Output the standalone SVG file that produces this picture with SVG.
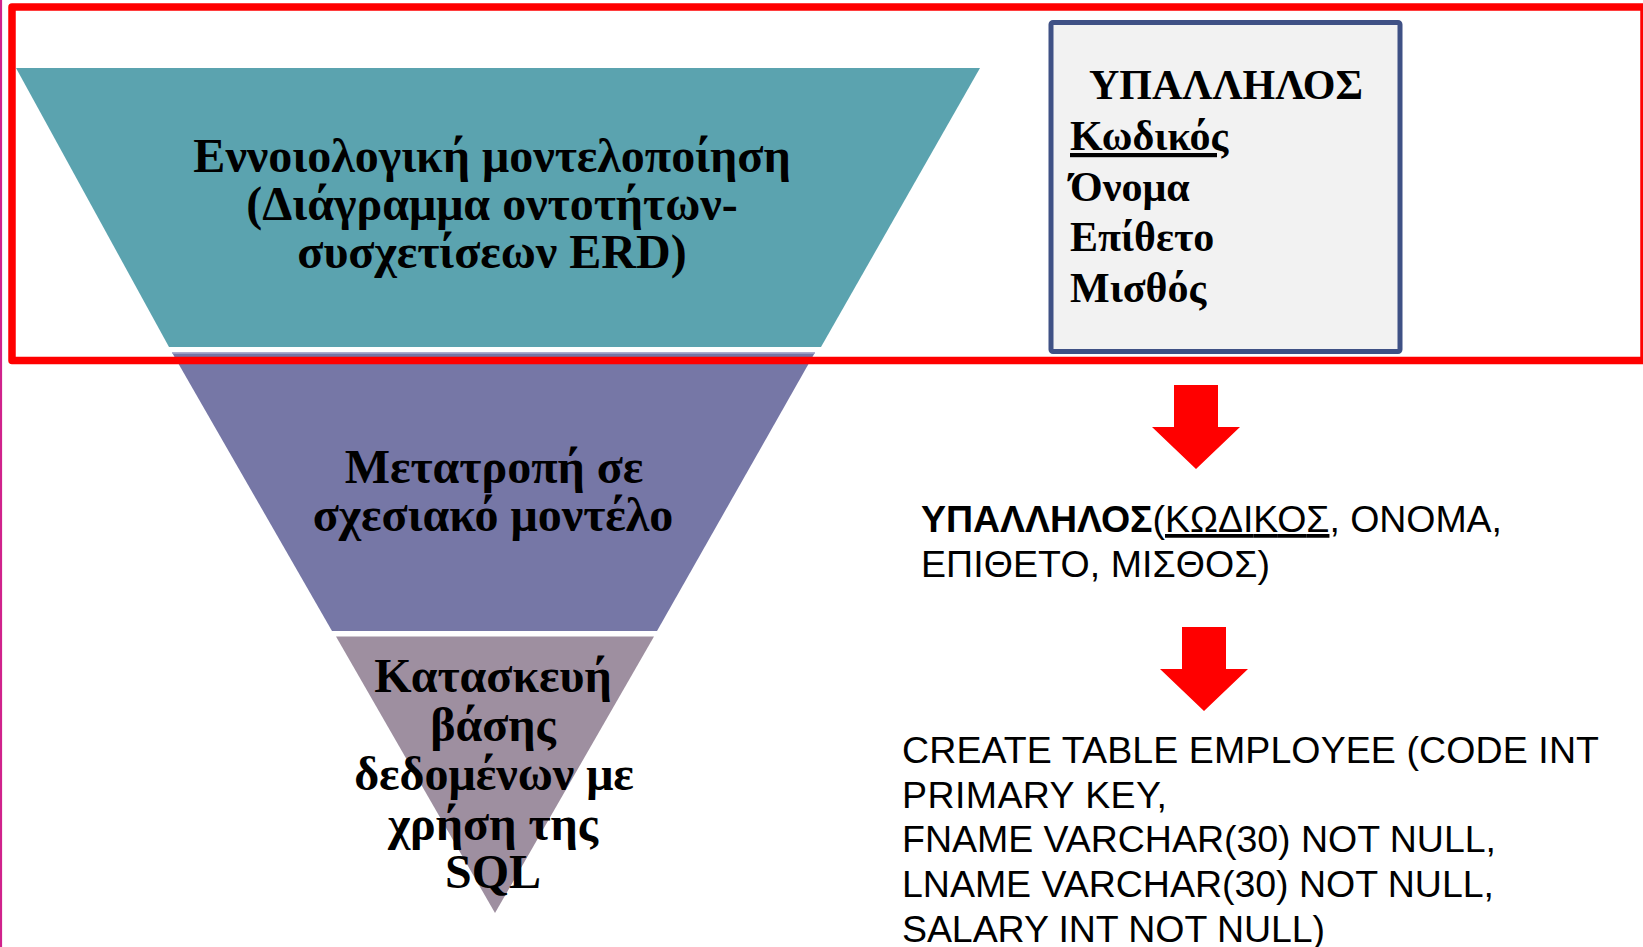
<svg xmlns="http://www.w3.org/2000/svg" width="1643" height="947" viewBox="0 0 1643 947">
  <style>
    .serif { font-family: "Liberation Serif", "Times New Roman", serif; font-weight: bold; fill: #000; }
    .funnel { font-size: 48px; text-anchor: middle; }
    .er { font-size: 42px; }
    .sans { font-family: "Liberation Sans", Arial, sans-serif; font-size: 37.5px; fill: #000; }
    .arrow { fill: #FF0000; }
  </style>
  <rect x="0" y="0" width="1643" height="947" fill="#FFFFFF"/>
  <line x1="1" y1="0" x2="1" y2="947" stroke="#D0228C" stroke-width="2.2"/>

  <g id="funnel-top">
    <polygon points="16,68 980,68 821,347 169,347" fill="#5BA3AF"/>
    <text class="serif funnel" x="492" y="172">Εννοιολογική μοντελοποίηση</text>
    <text class="serif funnel" x="492" y="220">(Διάγραμμα οντοτήτων-</text>
    <text class="serif funnel" x="492" y="268">συσχετίσεων ERD)</text>
  </g>

  <g id="funnel-middle">
    <polygon points="172,352.5 815,352.5 657,631 332,631" fill="#7677A6"/>
    <line x1="172" y1="353" x2="815" y2="353" stroke="#A9A9CC" stroke-width="1.5"/>
    <text class="serif funnel" x="494" y="483">Μετατροπή σε</text>
    <text class="serif funnel" x="493" y="531">σχεσιακό μοντέλο</text>
  </g>

  <g id="funnel-bottom">
    <polygon points="336,636.5 654,636.5 495,913" fill="#9E8FA0"/>
    <text class="serif funnel" x="493" y="692">Κατασκευή</text>
    <text class="serif funnel" x="493" y="741">βάσης</text>
    <text class="serif funnel" x="494" y="790">δεδομένων με</text>
    <text class="serif funnel" x="493" y="840">χρήση της</text>
    <text class="serif funnel" x="493" y="888">SQL</text>
  </g>

  <g id="entity-box">
    <rect x="1051" y="22.5" width="349" height="329" rx="2" fill="#F2F2F2" stroke="#3F5185" stroke-width="5"/>
    <text class="serif er" x="1226" y="99" text-anchor="middle">ΥΠΑΛΛΗΛΟΣ</text>
    <text class="serif er" x="1070" y="150" text-decoration="underline">Κωδικός</text>
    <text class="serif er" x="1070" y="201">Όνομα</text>
    <text class="serif er" x="1070" y="251">Επίθετο</text>
    <text class="serif er" x="1070" y="302">Μισθός</text>
  </g>

  <g id="highlight-frame">
    <rect x="12" y="7" width="1632" height="353.5" fill="none" stroke="#FF0000" stroke-width="7.5" stroke-linejoin="round"/>
  </g>

  <g id="connectors">
    <polygon class="arrow" points="1174,385 1218,385 1218,427 1240,427 1196,469 1152,427 1174,427"/>
    <polygon class="arrow" points="1182,627 1226,627 1226,669 1248,669 1204,711 1160,669 1182,669"/>
  </g>

  <g id="relation">
    <text class="sans" x="921" y="532" textLength="581" lengthAdjust="spacing"><tspan font-weight="bold">ΥΠΑΛΛΗΛΟΣ</tspan>(<tspan text-decoration="underline">ΚΩΔΙΚΟΣ</tspan>, ΟΝΟΜΑ,</text>
    <text class="sans" x="921" y="577" textLength="349" lengthAdjust="spacing">ΕΠΙΘΕΤΟ, ΜΙΣΘΟΣ)</text>
  </g>

  <g id="sql">
    <text class="sans" x="902" y="763" textLength="697" lengthAdjust="spacing">CREATE TABLE EMPLOYEE (CODE INT</text>
    <text class="sans" x="902" y="808" textLength="265" lengthAdjust="spacing">PRIMARY KEY,</text>
    <text class="sans" x="902" y="852" textLength="594" lengthAdjust="spacing">FNAME VARCHAR(30) NOT NULL,</text>
    <text class="sans" x="902" y="897" textLength="592" lengthAdjust="spacing">LNAME VARCHAR(30) NOT NULL,</text>
    <text class="sans" x="902" y="942" textLength="423" lengthAdjust="spacing">SALARY INT NOT NULL)</text>
  </g>
</svg>
